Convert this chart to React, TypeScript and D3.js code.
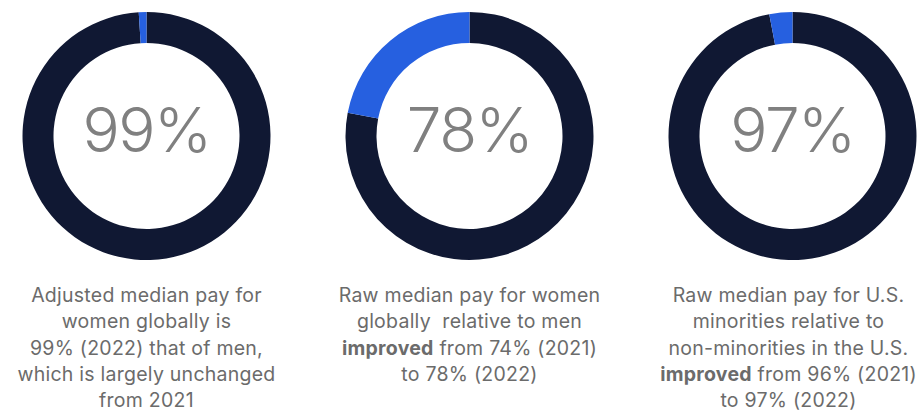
import React from "react";
import * as d3 from "d3";

const metricLabels = ["99%", "78%", "97%"];
const metricValues = [99, 78, 97];
const descLines: { bold?: string; text: string }[][] = [
  [
    { text: "Adjusted median pay for" },
    { text: "women globally is" },
    { text: "99% (2022) that of men," },
    { text: "which is largely unchanged" },
    { text: "from 2021" },
  ],
  [
    { text: "Raw median pay for women" },
    { text: "globally  relative to men" },
    { bold: "improved", text: " from 74% (2021)" },
    { text: "to 78% (2022)" },
  ],
  [
    { text: "Raw median pay for U.S." },
    { text: "minorities relative to" },
    { text: "non-minorities in the U.S." },
    { bold: "improved", text: " from 96% (2021)" },
    { text: "to 97% (2022)" },
  ],
];

const W = 920;
const H = 413;
const DARK = "#101833";
const BLUE = "#2660e0";

export default function App() {
  const x = d3.scalePoint<number>().domain([0, 1, 2]).range([146.5, 792.5]);
  const cy = 136;
  const pie = d3
    .pie<{ key: string; v: number }>()
    .sort(null)
    .value((d) => d.v);
  const arc = d3
    .arc<d3.PieArcDatum<{ key: string; v: number }>>()
    .innerRadius(93)
    .outerRadius(124);

  return (
    <svg
      width={W}
      height={H}
      style={{ position: "absolute", left: 0, top: 0, display: "block" }}
    >
      <rect width={W} height={H} fill="#fff" />
      {metricValues.map((v, i) => {
        const arcs = pie([
          { key: "main", v },
          { key: "rest", v: 100 - v },
        ]);
        const cx = x(i)!;
        return (
          <g key={i}>
            <g transform={`translate(${cx},${cy})`}>
              {arcs.map((a) => (
                <path
                  key={a.data.key}
                  d={arc(a) || ""}
                  fill={a.data.key === "main" ? DARK : BLUE}
                />
              ))}
              <text
                y={16}
                textAnchor="middle"
                fontFamily="Inter, Lato, sans-serif"
                fontWeight={300}
                fontSize={62}
                letterSpacing={-1.5}
                fill="#808080"
              >
                {metricLabels[i]}
              </text>
            </g>
            {descLines[i].map((ln, j) => (
              <text
                key={j}
                x={i === 2 ? cx - 4 : cx}
                y={302 + j * 26.3}
                textAnchor="middle"
                fontFamily="Inter, sans-serif"
                fontSize={19.5}
                letterSpacing={0.25}
                fill="#6b6b6b"
                style={{ whiteSpace: "pre" }}
              >
                {ln.bold ? (
                  <tspan fontWeight={700}>{ln.bold}</tspan>
                ) : null}
                {ln.text}
              </text>
            ))}
          </g>
        );
      })}
    </svg>
  );
}
